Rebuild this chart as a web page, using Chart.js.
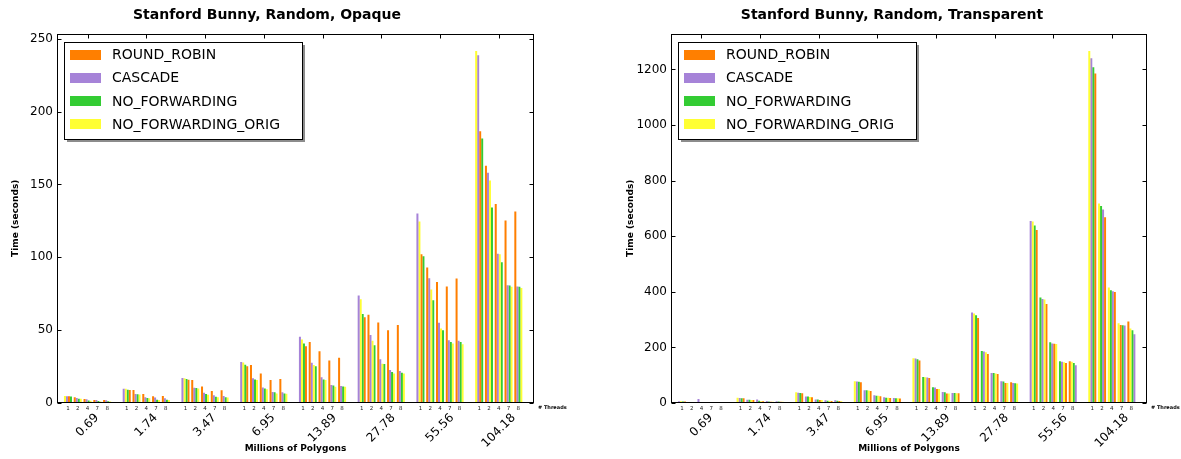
<!DOCTYPE html>
<html>
<head>
<meta charset="utf-8">
<script src="https://cdn.jsdelivr.net/npm/chart.js@4.4.0/dist/chart.umd.min.js"></script>
<style>
  html, body { margin: 0; padding: 0; background: #fff; }
  #wrap { position: relative; width: 1181px; height: 459px; }
  canvas { position: absolute; top: 0; }
</style>
</head>
<body>
<div id="wrap">
  <canvas id="opaqueChart" width="590" height="459" style="left:0"></canvas>
  <canvas id="transChart" width="591" height="459" style="left:590px"></canvas>
</div>
<script>
const polygonCounts = ['0.69', '1.74', '3.47', '6.95', '13.89', '27.78', '55.56', '104.18'];
const threadCounts = ['1', '2', '4', '7', '8'];
const seriesNames = ['ROUND_ROBIN', 'CASCADE', 'NO_FORWARDING', 'NO_FORWARDING_ORIG'];
const seriesColors = ['#ff7f00', '#a683d8', '#33cc33', '#ffff33'];

// one row per polygon count, values for 1, 2, 4, 7, 8 threads
const opaqueRoundRobin = [
  [4.6, 3.9, 2.7, 2.1, 2.1], [9.0, 8.9, 6.2, 4.6, 4.8], [16.0, 15.8, 11.4, 8.2, 8.7], [25.3, 26.0, 20.3, 15.8, 16.4],
  [39.0, 41.8, 35.6, 29.2, 31.0], [58.9, 60.5, 55.2, 50.0, 53.6], [102.0, 93.0, 83.0, 80.0, 85.4], [186.5, 162.8, 136.5, 125.3, 131.5]
];
const opaqueCascade = [
  [4.7, 3.4, 2.5, 2.1, 1.9], [9.8, 6.2, 3.9, 3.7, 3.2], [17.1, 10.5, 7.1, 5.3, 4.8], [28.1, 16.9, 10.7, 7.5, 7.3],
  [45.4, 27.6, 17.6, 12.3, 11.6], [73.7, 46.6, 30.1, 22.6, 21.9], [130.0, 85.6, 55.0, 43.0, 42.7], [238.6, 158.0, 102.5, 80.8, 80.0]
];
const opaqueNoFwd = [
  [4.5, 3.0, 1.8, 1.3, 1.2], [9.1, 6.0, 3.5, 2.3, 2.3], [16.4, 10.3, 6.2, 4.3, 3.9], [26.3, 16.2, 10.0, 7.3, 6.6],
  [40.9, 25.3, 16.2, 12.0, 11.4], [61.0, 39.7, 26.7, 21.2, 20.8], [100.7, 70.5, 50.0, 41.8, 41.8], [181.5, 134.2, 96.6, 80.6, 79.8]
];
const opaqueNoFwdOrig = [
  [4.8, 3.0, 1.5, 1.1, 1.0], [9.7, 5.8, 3.2, 2.1, 2.1], [17.0, 10.0, 5.7, 3.9, 3.7], [27.8, 15.8, 9.4, 6.6, 6.4],
  [43.6, 26.0, 15.8, 11.2, 11.2], [71.2, 42.7, 26.9, 20.3, 20.3], [124.6, 77.9, 51.1, 40.9, 40.4], [241.5, 152.7, 102.0, 79.7, 79.0]
];

const transRoundRobin = [
  [5.5, 3.5, 3.0, 2.2, 1.4], [17.0, 11.0, 6.0, 4.8, 4.5], [35.0, 20.5, 10.8, 7.2, 7.5], [74.7, 43.4, 24.0, 18.0, 16.0],
  [152.6, 90.0, 50.4, 33.8, 35.0], [306.0, 176.5, 104.0, 72.0, 74.5], [622.0, 356.5, 213.0, 144.0, 150.0], [1185, 668, 399, 281, 293]
];
const transCascade = [
  [6.2, 3.8, 14.0, 2.6, 1.6], [18.0, 12.0, 13.0, 7.0, 6.0], [37.0, 23.0, 13.0, 9.6, 9.6], [77.0, 45.8, 27.7, 20.5, 18.0],
  [160.0, 92.0, 56.0, 39.6, 36.0], [325.5, 185.0, 108.0, 78.0, 72.0], [655.0, 374.5, 214.0, 148.0, 135.8], [1240, 696, 402, 279, 247]
];
const transNoFwd = [
  [5.6, 3.6, 3.2, 2.4, 1.5], [17.2, 12.0, 8.4, 5.0, 5.2], [36.0, 23.0, 13.0, 8.4, 8.4], [76.0, 45.8, 26.5, 19.3, 17.5],
  [157.0, 93.6, 56.5, 39.0, 36.0], [316.0, 187.0, 108.0, 77.0, 71.0], [639.0, 379.5, 218.6, 150.0, 144.0], [1208, 709, 406, 280, 262]
];
const transNoFwdOrig = [
  [6.2, 3.6, 3.0, 2.3, 1.4], [19.0, 11.2, 6.2, 4.8, 4.5], [38.5, 21.7, 10.8, 8.0, 6.0], [78.3, 44.6, 26.0, 19.0, 17.0],
  [161.0, 93.0, 50.4, 33.8, 35.5], [322.0, 182.7, 106.0, 72.0, 70.0], [653.0, 372.0, 212.0, 147.0, 148.0], [1266, 718, 415.5, 287, 268]
];

const FONT = '"DejaVu Sans", "Bitstream Vera Sans", sans-serif';

// bars of one cluster are drawn tallest first (left), so datasets are ranks, not series
function buildDatasets(series) {
  const ranked = [[], [], [], []];
  const colors = [[], [], [], []];
  polygonCounts.forEach((p, g) => {
    threadCounts.forEach((t, i) => {
      const order = series.map((s, k) => k).sort((a, b) => series[b][g][i] - series[a][g][i]);
      order.forEach((k, r) => {
        ranked[r].push({ x: g * 6 + i, y: series[k][g][i] });
        colors[r].push(seriesColors[k]);
      });
    });
  });
  return ranked.map((data, r) => ({
    data: data,
    backgroundColor: colors[r],
    borderWidth: 0,
    categoryPercentage: 0.82,
    barPercentage: 1
  }));
}

const framePlugin = {
  id: 'frame',
  afterDraw(chart, args, opts) {
    const { ctx, chartArea: a, scales: { x, y } } = chart;
    const line = (x1, y1, x2, y2) => { ctx.beginPath(); ctx.moveTo(x1, y1); ctx.lineTo(x2, y2); ctx.stroke(); };
    ctx.save();

    // title
    ctx.fillStyle = '#000';
    ctx.font = 'bold 14px ' + FONT;
    ctx.textAlign = 'center';
    ctx.textBaseline = 'middle';
    ctx.fillText(opts.title, opts.titleX, 15);

    // legend box with shadow
    const bx = Math.round(a.left) + 7, by = Math.round(a.top) + 8, bw = 238, bh = 97;
    ctx.fillStyle = '#8c8c8c';
    ctx.fillRect(bx + 3, by + 3, bw, bh);
    ctx.fillStyle = '#fff';
    ctx.fillRect(bx, by, bw, bh);
    ctx.strokeStyle = '#000';
    ctx.lineWidth = 1;
    ctx.strokeRect(bx + 0.5, by + 0.5, bw, bh);
    ctx.font = '14px ' + FONT;
    ctx.textAlign = 'left';
    ctx.textBaseline = 'middle';
    seriesNames.forEach((name, k) => {
      const cy = by + 12.5 + 23.2 * k;
      ctx.fillStyle = seriesColors[k];
      ctx.fillRect(bx + 6, Math.round(cy - 5), 31, 10);
      ctx.fillStyle = '#000';
      ctx.fillText(name, bx + 48, cy + 1);
    });

    // frame
    ctx.strokeStyle = '#000';
    ctx.lineWidth = 1;
    const L = Math.round(a.left) + 0.5, R = Math.round(a.right) - 0.5;
    const T = Math.round(a.top) + 0.5, B = Math.round(a.bottom) - 0.5;
    ctx.strokeRect(L, T, R - L, B - T);

    // inward ticks
    y.ticks.forEach(t => {
      const py = Math.round(y.getPixelForValue(t.value)) + 0.5;
      line(L, py, L + 4, py);
      line(R - 4, py, R, py);
    });
    polygonCounts.forEach((p, g) => {
      const px = Math.round(x.getPixelForValue(g * 6 + 2)) + 0.5;
      line(px, T, px, T + 4);
    });

    // polygon-count labels, rotated 45 degrees, box top-aligned under the thread labels
    ctx.fillStyle = '#000';
    ctx.font = '12px ' + FONT;
    ctx.textAlign = 'center';
    ctx.textBaseline = 'middle';
    polygonCounts.forEach((p, g) => {
      const w = ctx.measureText(p).width;
      const half = (w + 11) * Math.SQRT1_2 / 2;
      ctx.save();
      ctx.translate(x.getPixelForValue(g * 6 + 2), a.bottom + 9 + half);
      ctx.rotate(-Math.PI / 4);
      ctx.fillText(p, 0, 0);
      ctx.restore();
    });

    ctx.font = 'bold 5px ' + FONT;
    ctx.textAlign = 'left';
    ctx.fillText('# Threads', a.right + 4, a.bottom + 4.5);
    ctx.restore();
  }
};

function makeChart(id, title, titleX, series, step, yWidth, yTitlePad, rightPad) {
  const yMax = Math.max(...series.flat(2)) * 1.05;
  const positions = [];
  polygonCounts.forEach((p, g) => threadCounts.forEach((t, i) => positions.push(g * 6 + i)));
  return new Chart(document.getElementById(id), {
    type: 'bar',
    data: { datasets: buildDatasets(series) },
    options: {
      responsive: false,
      animation: false,
      layout: { padding: { left: 0, right: rightPad, top: 33.5, bottom: 0 } },
      plugins: {
        legend: { display: false },
        tooltip: { enabled: false },
        title: { display: false },
        frame: { title: title, titleX: titleX }
      },
      scales: {
        x: {
          type: 'linear', min: -1.12, max: 47.6, bounds: 'data', offset: false,
          grid: { display: false, drawTicks: false },
          border: { display: false },
          afterBuildTicks: s => { s.ticks = positions.map(v => ({ value: v })); },
          afterFit: s => { s.height = 56; },
          ticks: {
            autoSkip: false, maxRotation: 0, minRotation: 0, padding: 2, color: '#222',
            font: { family: FONT, size: 5.5 },
            callback: v => threadCounts[v % 6]
          },
          title: {
            display: true, text: 'Millions of Polygons', color: '#000',
            font: { family: FONT, size: 9, weight: 'bold' },
            padding: { top: 0, bottom: 4.6 }
          }
        },
        y: {
          min: 0, max: yMax, bounds: 'data',
          grid: { display: false, drawTicks: false },
          border: { display: false },
          afterFit: s => { s.width = yWidth; },
          ticks: {
            stepSize: step, includeBounds: false, padding: 4, color: '#000',
            font: { family: FONT, size: 12 },
            callback: v => String(v)
          },
          title: {
            display: true, text: 'Time (seconds)', color: '#000',
            font: { family: FONT, size: 9, weight: 'bold' },
            padding: { top: yTitlePad, bottom: 0 }
          }
        }
      }
    },
    plugins: [framePlugin]
  });
}

makeChart('opaqueChart', 'Stanford Bunny, Random, Opaque', 267,
  [opaqueRoundRobin, opaqueCascade, opaqueNoFwd, opaqueNoFwdOrig], 50, 57, 10.6, 56);
makeChart('transChart', 'Stanford Bunny, Random, Transparent', 302,
  [transRoundRobin, transCascade, transNoFwd, transNoFwdOrig], 200, 81, 35, 34);
</script>
</body>
</html>
